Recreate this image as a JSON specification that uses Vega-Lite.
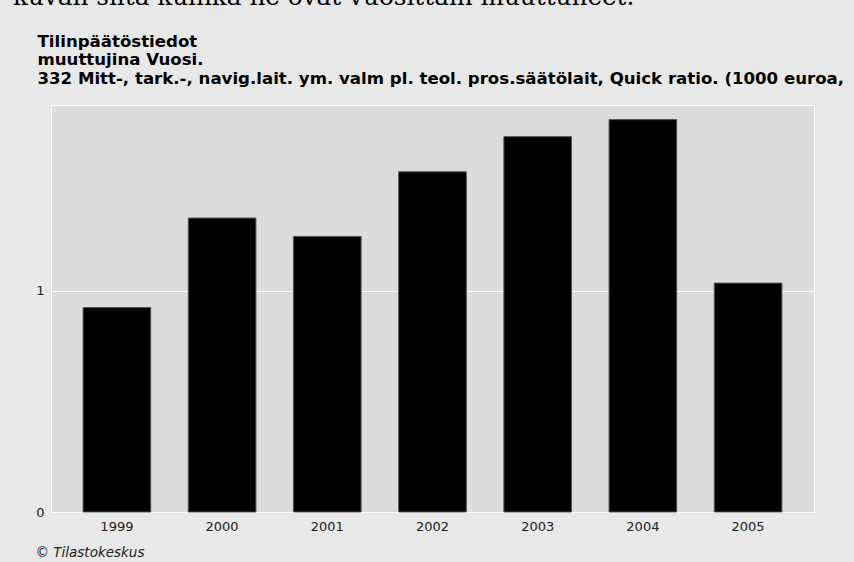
{
  "$schema": "https://vega.github.io/schema/vega-lite/v6.json",
  "width": 763,
  "height": 407,
  "autosize": {"type": "none"},
  "padding": {"left": 51, "top": 105, "right": 40, "bottom": 50},
  "background": "#e8e8e8",
  "title": {
    "text": "kuvan siitä kuinka ne ovat vuosittain muuttuneet.",
    "anchor": "start",
    "frame": "group",
    "dx": -38,
    "offset": 3,
    "baseline": "alphabetic",
    "font": "DejaVu Serif",
    "fontSize": 24.7,
    "fontWeight": "normal",
    "color": "#000000"
  },
  "data": {
    "values": [
      {"Vuosi": "1999", "Quick ratio": 0.924},
      {"Vuosi": "2000", "Quick ratio": 1.329},
      {"Vuosi": "2001", "Quick ratio": 1.246},
      {"Vuosi": "2002", "Quick ratio": 1.538},
      {"Vuosi": "2003", "Quick ratio": 1.697},
      {"Vuosi": "2004", "Quick ratio": 1.774},
      {"Vuosi": "2005", "Quick ratio": 1.035}
    ]
  },
  "mark": {"type": "bar", "fill": "#000000", "stroke": "#555555", "strokeWidth": 1},
  "encoding": {
    "x": {
      "field": "Vuosi",
      "type": "ordinal",
      "scale": {"paddingInner": 0.357, "paddingOuter": 0.305},
      "axis": {
        "title": "© Tilastokeskus",
        "titleFont": "DejaVu Sans",
        "titleFontSize": 13.5,
        "titleFontStyle": "italic",
        "titleFontWeight": "normal",
        "titleColor": "#222222",
        "titleAnchor": "start",
        "titleAlign": "left",
        "titleBaseline": "alphabetic",
        "titleX": -16,
        "titleY": 44,
        "labelAngle": 0,
        "labelFont": "DejaVu Sans",
        "labelFontSize": 13,
        "labelColor": "#222222",
        "labelPadding": 8,
        "ticks": false,
        "domain": false
      }
    },
    "y": {
      "field": "Quick ratio",
      "type": "quantitative",
      "scale": {"domain": [0, 1.84], "nice": false},
      "axis": {
        "title": ["Tilinpäätöstiedot", "muuttujina Vuosi.", "332 Mitt-, tark.-, navig.lait. ym. valm pl. teol. pros.säätölait, Quick ratio. (1000 euroa,"],
        "titleFont": "DejaVu Sans",
        "titleFontSize": 16.6,
        "titleFontWeight": "bold",
        "titleColor": "#000000",
        "titleLineHeight": 18.5,
        "titleAngle": 0,
        "titleAlign": "left",
        "titleBaseline": "alphabetic",
        "titleX": -14,
        "titleY": -59,
        "values": [0, 1],
        "labelFont": "DejaVu Sans",
        "labelFontSize": 13,
        "labelColor": "#222222",
        "labelPadding": 7,
        "ticks": false,
        "domain": false,
        "gridColor": "#ffffff",
        "gridOpacity": 1,
        "gridWidth": 1
      }
    }
  },
  "config": {
    "view": {"fill": "#dcdcdc", "stroke": "#ffffff", "strokeWidth": 1}
  }
}
